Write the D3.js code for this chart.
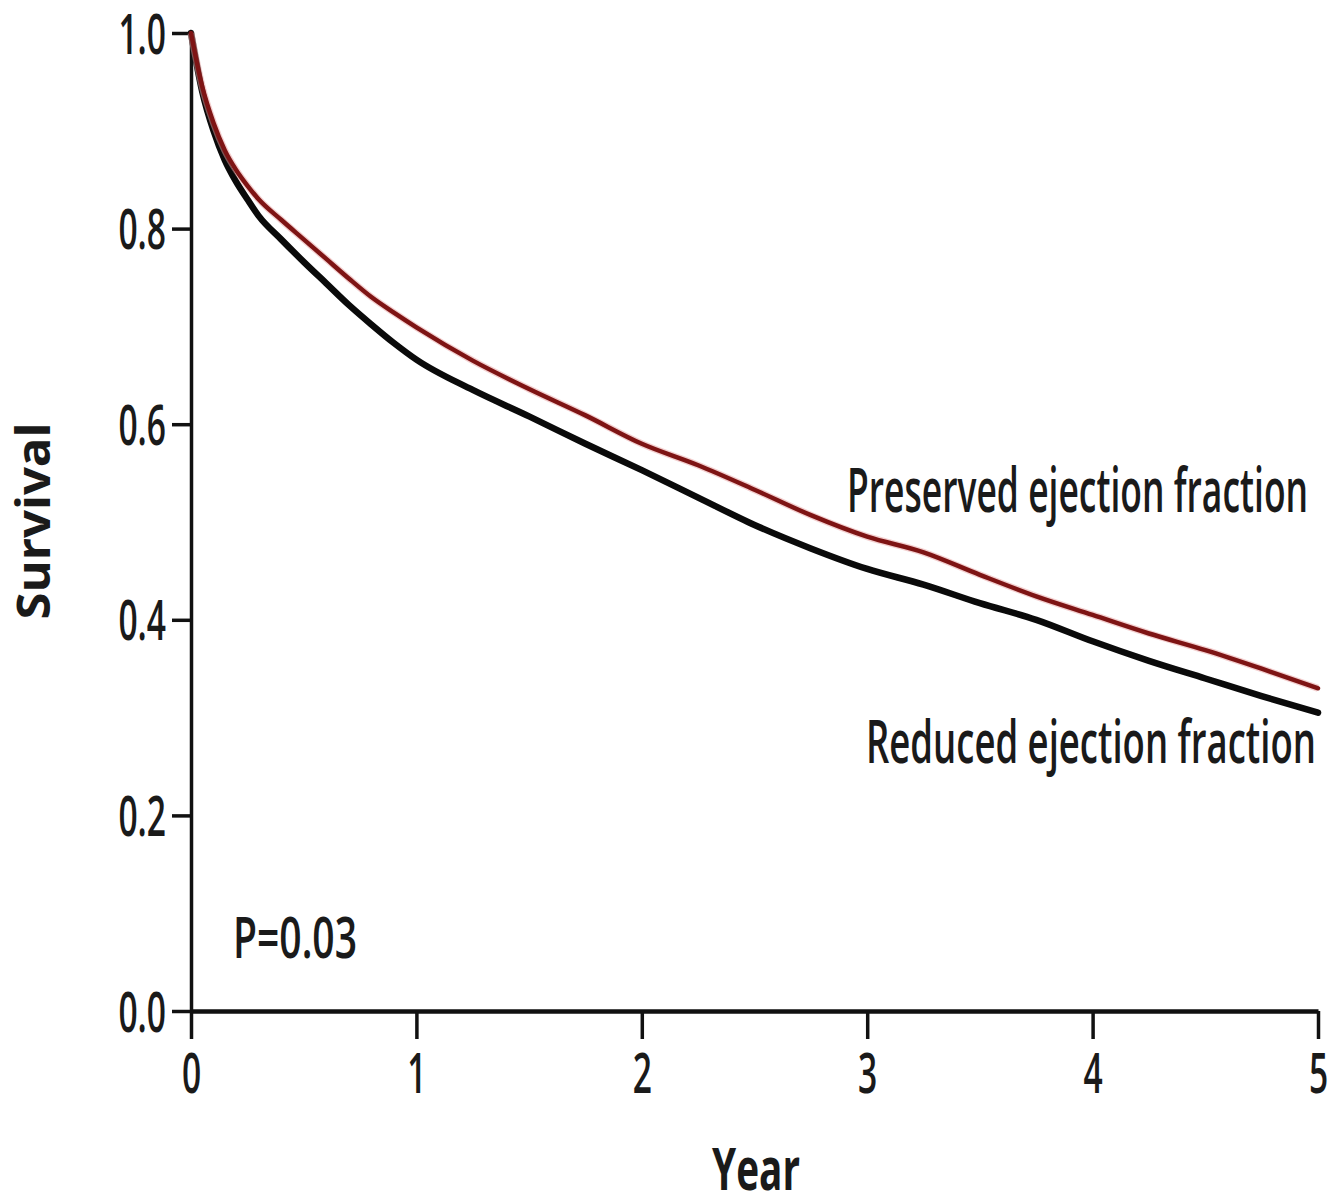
<!DOCTYPE html>
<html>
<head>
<meta charset="utf-8">
<script src="https://cdn.jsdelivr.net/npm/d3@7"></script>
<style>
  html, body { margin: 0; padding: 0; background: #fff; }
  svg text { font-family: "Open Sans", "DejaVu Sans", sans-serif; fill: #1a1a1a; }
</style>
</head>
<body>
<svg id="chart" width="1331" height="1202"></svg>
<script>
// Kaplan–Meier survival by ejection-fraction group, years 0–5
const years = [0, 0.05, 0.1, 0.15, 0.2, 0.25, 0.3, 0.4, 0.5, 0.6, 0.7, 0.8, 0.9, 1.0,
  1.25, 1.5, 1.75, 2.0, 2.25, 2.5, 2.75, 3.0, 3.25, 3.5, 3.75, 4.0, 4.25, 4.5, 4.75, 5.0];
const reducedEF = [1.0, 0.94, 0.9, 0.87, 0.848, 0.83, 0.813, 0.789, 0.766, 0.744, 0.722, 0.702, 0.683, 0.666,
  0.635, 0.608, 0.58, 0.553, 0.525, 0.497, 0.473, 0.452, 0.436, 0.417, 0.40, 0.378, 0.358, 0.34, 0.322, 0.305];
const preservedEF = [1.0, 0.945, 0.908, 0.88, 0.86, 0.844, 0.83, 0.809, 0.789, 0.769, 0.749, 0.73, 0.714, 0.699,
  0.665, 0.636, 0.609, 0.58, 0.558, 0.533, 0.507, 0.485, 0.469, 0.446, 0.424, 0.405, 0.386, 0.369, 0.35, 0.33];
const xTicks = [0, 1, 2, 3, 4, 5];
const yTicks = [0.0, 0.2, 0.4, 0.6, 0.8, 1.0];
const seriesNames = ["Preserved ejection fraction", "Reduced ejection fraction"];
const pValueText = "P=0.03";
const xTitle = "Year";
const yTitle = "Survival";

const svg = d3.select("#chart");
const plotLeft = 191, plotRight = 1318, plotTop = 33, plotBottom = 1011;

const x = d3.scaleLinear().domain([0, 5]).range([plotLeft, plotRight]);
const y = d3.scaleLinear().domain([0, 1]).range([plotBottom, plotTop]);

// horizontally condensed text: cap height set by font size, width squeezed
const squeeze = 0.6;

// Y axis
const yAxis = svg.append("g")
  .attr("transform", `translate(${plotLeft},0)`)
  .call(d3.axisLeft(y).tickValues(yTicks).tickFormat(d3.format(".1f")).tickSize(19).tickSizeOuter(0));
yAxis.select(".domain").attr("stroke", "#111").attr("stroke-width", 3.5);
yAxis.selectAll(".tick line").attr("stroke", "#111").attr("stroke-width", 3.5);
yAxis.selectAll(".tick text")
  .attr("x", null).attr("dy", "0.36em")
  .attr("text-anchor", "end")
  .attr("transform", `translate(-25,0) scale(${squeeze},1)`)
  .style("font-size", "56px").style("font-weight", 600)
  .style("font-family", '"Open Sans", sans-serif').attr("fill", "#1a1a1a");

// X axis
const xAxis = svg.append("g")
  .attr("transform", `translate(0,${plotBottom})`)
  .call(d3.axisBottom(x).tickValues(xTicks).tickFormat(d3.format("d")).tickSize(28).tickSizeOuter(0));
xAxis.select(".domain").attr("stroke", "#111").attr("stroke-width", 4.5);
xAxis.selectAll(".tick line").attr("stroke", "#111").attr("stroke-width", 3.5);
xAxis.selectAll(".tick text")
  .attr("y", null).attr("dy", "0.36em")
  .attr("text-anchor", "middle")
  .attr("transform", `translate(0,62) scale(${squeeze},1)`)
  .style("font-size", "56px").style("font-weight", 600)
  .style("font-family", '"Open Sans", sans-serif').attr("fill", "#1a1a1a");

// survival curves
const line = d3.line()
  .x(d => x(d[0]))
  .y(d => y(d[1]))
  .curve(d3.curveMonotoneX);

svg.append("path")
  .datum(years.map((t, i) => [t, reducedEF[i]]))
  .attr("fill", "none").attr("stroke", "#0a0a0a").attr("stroke-width", 6.5)
  .attr("stroke-linejoin", "round").attr("stroke-linecap", "round")
  .attr("d", line);

svg.append("path")
  .datum(years.map((t, i) => [t, preservedEF[i]]))
  .attr("fill", "none").attr("stroke", "#e8a0a0").attr("stroke-width", 7).attr("opacity", 0.5)
  .attr("stroke-linejoin", "round").attr("d", line);
svg.append("path")
  .datum(years.map((t, i) => [t, preservedEF[i]]))
  .attr("fill", "none").attr("stroke", "#7e1414").attr("stroke-width", 4.5)
  .attr("stroke-linejoin", "round").attr("stroke-linecap", "round")
  .attr("d", line);

// text fitted to a given width (px) with a given cap height (px)
function fitText(txt, cx, baseline, width, capH, weight, anchor, rotate) {
  const fs = capH / 0.714;
  const g = svg.append("g");
  const t = g.append("text")
    .text(txt)
    .style("font-size", fs + "px")
    .style("font-weight", weight)
    .attr("text-anchor", anchor);
  const w = t.node().getComputedTextLength();
  const sx = width / w;
  if (rotate) {
    g.attr("transform", `translate(${cx},${baseline}) rotate(-90) scale(${sx},1)`);
  } else {
    g.attr("transform", `translate(${cx},${baseline}) scale(${sx},1)`);
  }
  return t;
}

// curve labels
fitText(seriesNames[0], 847, 512, 461, 44, 600, "start", false);
fitText(seriesNames[1], 866, 763, 450, 42, 600, "start", false);

// p-value
fitText(pValueText, 233, 958, 124, 41, 600, "start", false);

// axis titles
fitText(xTitle, 756, 1190, 88, 42, 700, "middle", false);
fitText(yTitle, 50, 521, 197, 33, 700, "middle", true);
</script>
</body>
</html>
